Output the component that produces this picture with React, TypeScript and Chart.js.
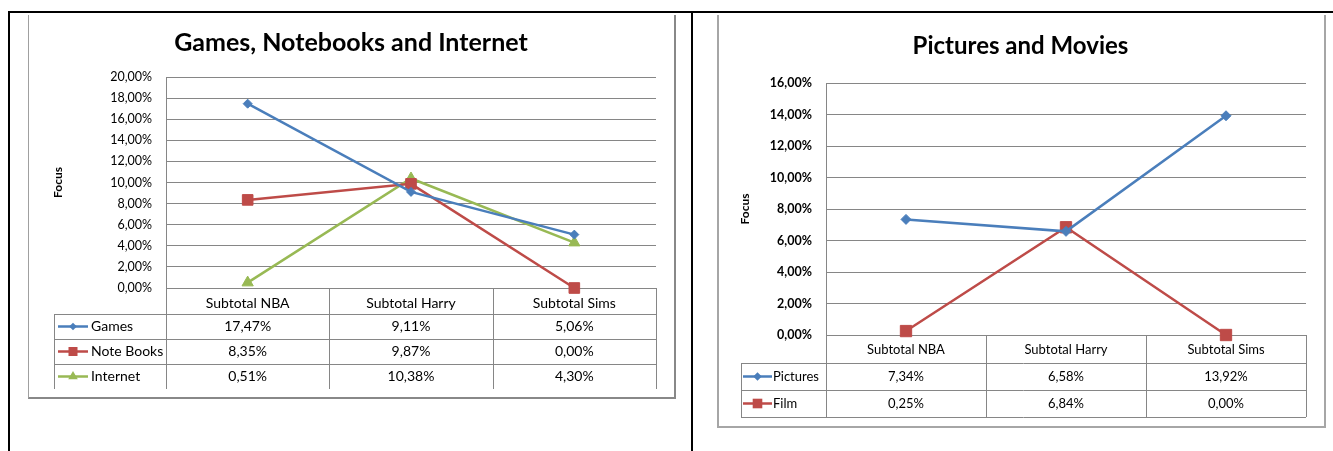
import React, { useEffect, useRef } from "react";
import { Chart, registerables } from "chart.js";

Chart.register(...registerables);

// ---------- data ----------
const categories = ["Subtotal NBA", "Subtotal Harry", "Subtotal Sims"];
const gamesValues = [17.47, 9.11, 5.06];
const noteBooksValues = [8.35, 9.87, 0.0];
const internetValues = [0.51, 10.38, 4.3];
const picturesValues = [7.34, 6.58, 13.92];
const filmValues = [0.25, 6.84, 0.0];
const leftTitle = "Games, Notebooks and Internet";
const rightTitle = "Pictures and Movies";
const axisTitle = "Focus";
const leftMax = 20;
const rightMax = 16;
const tickStep = 2;

// ---------- styles ----------
const BLUE = "#4A7EBB";
const RED = "#BE4B48";
const GREEN = "#98B954";
const GRID = "#868686";
const FONT = "Lato, 'Open Sans', sans-serif";

function fmt(v: number) {
  return v.toFixed(2).replace(".", ",") + "%";
}

type Series = {
  label: string;
  data: number[];
  color: string;
  style: "rectRot" | "rect" | "triangle";
  radius: number;
};

function drawMarker(ctx: CanvasRenderingContext2D, style: string, x: number, y: number, r: number, color: string) {
  ctx.save();
  ctx.fillStyle = color;
  ctx.beginPath();
  if (style === "rect") {
    const s = r * Math.SQRT1_2;
    ctx.rect(x - s, y - s, 2 * s, 2 * s);
  } else if (style === "rectRot") {
    ctx.moveTo(x, y - r);
    ctx.lineTo(x + r, y);
    ctx.lineTo(x, y + r);
    ctx.lineTo(x - r, y);
    ctx.closePath();
  } else {
    for (let i = 0; i < 3; i++) {
      const a = (i * 2 * Math.PI) / 3;
      const px = x + Math.sin(a) * r;
      const py = y - Math.cos(a) * r;
      if (i === 0) ctx.moveTo(px, py);
      else ctx.lineTo(px, py);
    }
    ctx.closePath();
  }
  ctx.fill();
  ctx.restore();
}

const tablePlugin = {
  id: "dataTable",
  afterDraw(chart: any, _args: any, opts: any) {
    const { ctx, chartArea, scales } = chart;
    const xs = scales.x;
    const series: Series[] = opts.series;
    const n = categories.length;
    const colW = (chartArea.right - chartArea.left) / n;
    const top = chartArea.bottom;
    const headerBottom = top + opts.headerH;
    const tableBottom = headerBottom + series.length * opts.rowH;
    const crisp = (v: number) => Math.round(v) + 0.5;

    ctx.save();
    ctx.strokeStyle = GRID;
    ctx.lineWidth = 1;
    ctx.beginPath();
    for (let i = 0; i <= n; i++) {
      const x = crisp(chartArea.left + i * colW);
      ctx.moveTo(x, top);
      ctx.lineTo(x, tableBottom);
    }
    ctx.moveTo(crisp(opts.tableLeft), headerBottom);
    ctx.lineTo(crisp(opts.tableLeft), tableBottom);
    const lastRow = opts.bottomLine ? series.length : series.length - 1;
    for (let k = 0; k <= lastRow; k++) {
      const y = crisp(headerBottom + k * opts.rowH);
      ctx.moveTo(opts.tableLeft, y);
      ctx.lineTo(chartArea.right, y);
    }
    ctx.stroke();

    ctx.font = opts.font;
    ctx.fillStyle = "#000";
    ctx.textBaseline = "middle";
    series.forEach((s, r) => {
      const cy = headerBottom + r * opts.rowH + opts.rowH / 2;
      ctx.strokeStyle = s.color;
      ctx.lineWidth = 2.5;
      ctx.beginPath();
      ctx.moveTo(opts.keyStart, cy);
      ctx.lineTo(opts.keyEnd, cy);
      ctx.stroke();
      drawMarker(ctx, s.style, (opts.keyStart + opts.keyEnd) / 2, cy, s.radius * 0.85, s.color);
      ctx.fillStyle = "#000";
      ctx.textAlign = "left";
      ctx.fillText(s.label, opts.textX, cy);
      ctx.textAlign = "center";
      s.data.forEach((v, i) => {
        ctx.fillText(fmt(v), xs.getPixelForValue(i), cy);
      });
    });
    ctx.restore();
  },
};

type Cfg = {
  title: string;
  titleSize: number;
  series: Series[];
  max: number;
  pad: number;
  yWidth: number;
  xHeight: number;
  titlePadTop: number;
  titlePadBottom: number;
  focusPad: number;
  tickBold: boolean;
  headerPad: number;
  headerSize: number;
  table: any;
};

function makeChart(canvas: HTMLCanvasElement, c: Cfg) {
  return new Chart(canvas, {
    type: "line",
    data: {
      labels: categories,
      datasets: c.series.map((s) => ({
        label: s.label,
        data: s.data,
        borderColor: s.color,
        backgroundColor: s.color,
        borderWidth: 2.5,
        pointStyle: s.style,
        pointRadius: s.radius,
        pointBorderWidth: 1,
        pointBorderColor: s.color,
        pointBackgroundColor: s.color,
        tension: 0,
        fill: false,
        clip: false,
      })),
    },
    options: {
      responsive: false,
      animation: false,
      devicePixelRatio: 1,
      layout: { padding: { left: c.pad, right: c.pad, top: 0, bottom: 0 } },
      plugins: {
        legend: { display: false },
        tooltip: { enabled: false },
        title: {
          display: true,
          text: c.title,
          color: "#000",
          font: { family: FONT, size: c.titleSize, weight: "bold", lineHeight: 1.2 },
          padding: { top: c.titlePadTop, bottom: c.titlePadBottom },
        },
        dataTable: c.table,
      } as any,
      scales: {
        x: {
          type: "category",
          offset: true,
          grid: { display: false },
          border: { display: false },
          ticks: {
            color: "#000",
            maxRotation: 0,
            autoSkip: false,
            padding: c.headerPad,
            font: { family: FONT, size: c.headerSize },
          },
          afterFit: (s: any) => {
            s.height = c.xHeight;
          },
        },
        y: {
          min: 0,
          max: c.max,
          grid: { color: GRID, lineWidth: 1, drawTicks: false },
          border: { display: true, color: GRID, width: 1 },
          ticks: {
            stepSize: tickStep,
            color: "#000",
            padding: 14,
            font: { family: FONT, size: 12.5, weight: c.tickBold ? "bold" : "normal" },
            callback: (v: any) => fmt(Number(v)),
          },
          title: {
            display: true,
            text: axisTitle,
            color: "#000",
            font: { family: FONT, size: 12, weight: "bold", lineHeight: 1.2 },
            padding: { top: c.focusPad, bottom: 0 },
          },
          afterFit: (s: any) => {
            s.width = c.yWidth;
          },
        },
      },
    } as any,
    plugins: [tablePlugin as any],
  });
}

const leftSeries: Series[] = [
  { label: "Games", data: gamesValues, color: BLUE, style: "rectRot", radius: 4.5 },
  { label: "Note Books", data: noteBooksValues, color: RED, style: "rect", radius: 7.5 },
  { label: "Internet", data: internetValues, color: GREEN, style: "triangle", radius: 6.5 },
];

const rightSeries: Series[] = [
  { label: "Pictures", data: picturesValues, color: BLUE, style: "rectRot", radius: 5 },
  { label: "Film", data: filmValues, color: RED, style: "rect", radius: 8 },
];

export default function App() {
  const leftRef = useRef<HTMLCanvasElement>(null);
  const rightRef = useRef<HTMLCanvasElement>(null);

  useEffect(() => {
    document.body.style.margin = "0";
    const left = makeChart(leftRef.current!, {
      title: leftTitle,
      titleSize: 25,
      series: leftSeries,
      max: leftMax,
      pad: 17,
      yWidth: 120,
      xHeight: 108,
      titlePadTop: 13,
      titlePadBottom: 19,
      focusPad: 4.8,
      tickBold: false,
      headerPad: -1.4,
      headerSize: 14,
      table: {
        series: leftSeries,
        tableLeft: 25,
        headerH: 26,
        rowH: 25,
        bottomLine: false,
        keyStart: 29,
        keyEnd: 59,
        textX: 62,
        font: `14px ${FONT}`,
      },
    });
    const right = makeChart(rightRef.current!, {
      title: rightTitle,
      titleSize: 24,
      series: rightSeries,
      max: rightMax,
      pad: 17,
      yWidth: 91,
      xHeight: 91,
      titlePadTop: 16.6,
      titlePadBottom: 22.6,
      focusPad: 2.8,
      tickBold: true,
      headerPad: -0.8,
      headerSize: 13,
      table: {
        series: rightSeries,
        tableLeft: 23,
        headerH: 28,
        rowH: 27,
        bottomLine: true,
        keyStart: 25,
        keyEnd: 54,
        textX: 55,
        font: `13px ${FONT}`,
      },
    });
    return () => {
      left.destroy();
      right.destroy();
    };
  }, []);

  const abs = (l: number, t: number, w: number, h: number, extra: React.CSSProperties = {}): React.CSSProperties => ({
    position: "absolute",
    left: l,
    top: t,
    width: w,
    height: h,
    boxSizing: "border-box",
    ...extra,
  });

  return (
    <div style={{ position: "absolute", left: 0, top: 0, width: 1333, height: 451, background: "#fff", overflow: "hidden" }}>
      <div style={abs(28, 15, 648, 384, { borderLeft: "1px solid #a0a0a0", borderRight: "2px solid #888", borderBottom: "2px solid #888" })} />
      <div style={abs(717, 15, 609, 413, { borderLeft: "2px solid #a6a6a6", borderRight: "2px solid #a6a6a6", borderBottom: "2px solid #a6a6a6" })} />
      <canvas ref={leftRef} width={644} height={381} style={abs(29, 15, 644, 381)} />
      <canvas ref={rightRef} width={605} height={411} style={abs(718, 15, 605, 411)} />
      <div style={abs(8, 11, 1325, 2, { background: "#000" })} />
      <div style={abs(8, 11, 2, 440, { background: "#000" })} />
      <div style={abs(691, 11, 2, 440, { background: "#000" })} />
    </div>
  );
}
